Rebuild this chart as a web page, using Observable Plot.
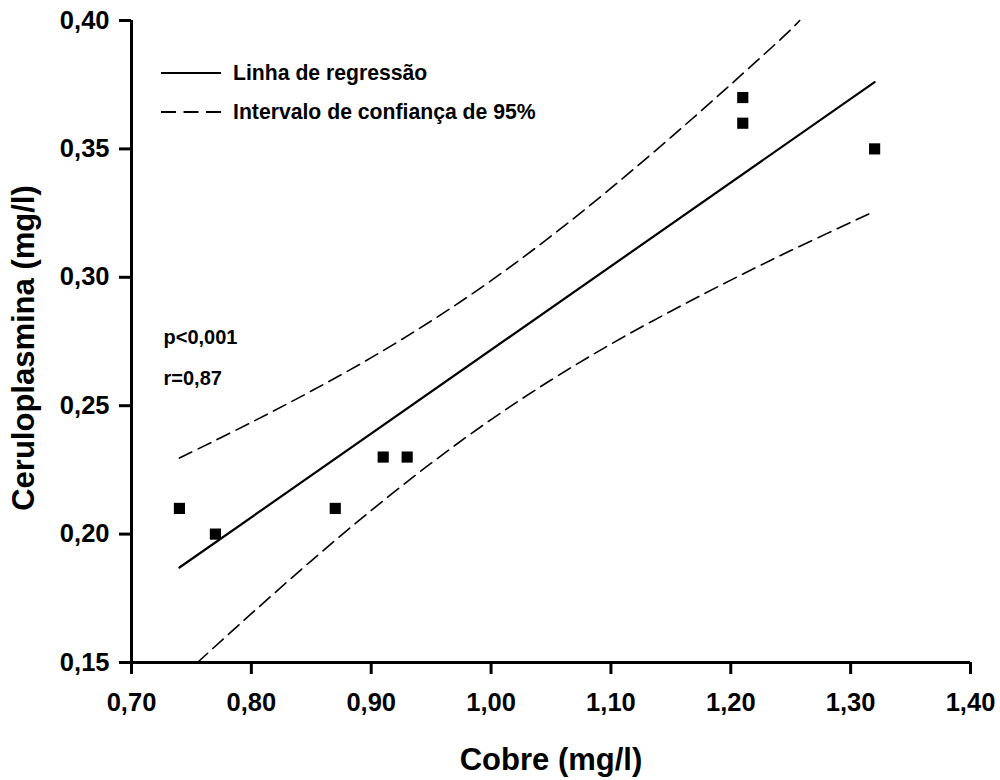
<!DOCTYPE html>
<html>
<head>
<meta charset="utf-8">
<script src="https://cdn.jsdelivr.net/npm/d3@7"></script>
<script src="https://cdn.jsdelivr.net/npm/@observablehq/plot@0.6"></script>
<style>
  html, body { margin: 0; padding: 0; background: #fff; }
  #chart { position: relative; width: 1000px; height: 780px; }
  #chart svg text { font-weight: bold; }
</style>
</head>
<body>
<div id="chart"></div>
<script>
// Observed data points
const cobre = [0.74, 0.77, 0.87, 0.91, 0.93, 1.21, 1.21, 1.32];
const ceruloplasmina = [0.21, 0.20, 0.21, 0.23, 0.23, 0.37, 0.36, 0.35];

// Regression line (endpoints)
const regX = [0.74, 1.32];
const regY = [0.187, 0.376];

// 95% confidence interval curves
const upperX = [0.74, 0.80, 0.85, 0.90, 0.95, 1.00, 1.05, 1.10, 1.15, 1.20, 1.25, 1.2575];
const upperY = [0.2296, 0.2435, 0.2557, 0.2687, 0.2830, 0.2987, 0.3160, 0.3347, 0.3545, 0.3751, 0.3964, 0.4000];
const lowerX = [0.755, 0.80, 0.85, 0.90, 0.95, 1.00, 1.05, 1.10, 1.15, 1.20, 1.25, 1.32];
const lowerY = [0.1500, 0.1690, 0.1896, 0.2092, 0.2276, 0.2446, 0.2600, 0.2740, 0.2868, 0.2989, 0.3104, 0.3257];

// Ticks
const xTicks = [0.70, 0.80, 0.90, 1.00, 1.10, 1.20, 1.30, 1.40];
const yTicks = [0.15, 0.20, 0.25, 0.30, 0.35, 0.40];

// Labels
const xTitle = "Cobre (mg/l)";
const yTitle = "Ceruloplasmina (mg/l)";
const stats = ["p<0,001", "r=0,87"];
const legendLabels = ["Linha de regressão", "Intervalo de confiança de 95%"];

const fmt = d => d.toFixed(2).replace(".", ",");
const points = cobre.map((x, i) => ({x, y: ceruloplasmina[i]}));
const reg = regX.map((x, i) => ({x, y: regY[i]}));
const upper = upperX.map((x, i) => ({x, y: upperY[i]}));
const lower = lowerX.map((x, i) => ({x, y: lowerY[i]}));

const FONT = "'Liberation Sans', Arial, Helvetica, sans-serif";

const chart = Plot.plot({
  width: 1000,
  height: 780,
  marginLeft: 131,
  marginRight: 30,
  marginTop: 20,
  marginBottom: 118,
  style: {fontFamily: FONT, fontWeight: "bold", color: "#000", background: "#fff", overflow: "visible"},
  x: {domain: [0.70, 1.40]},
  y: {domain: [0.15, 0.40]},
  marks: [
    Plot.line(upper, {x: "x", y: "y", curve: "catmull-rom", stroke: "#000", strokeWidth: 1.6, strokeDasharray: "14,7"}),
    Plot.line(lower, {x: "x", y: "y", curve: "catmull-rom", stroke: "#000", strokeWidth: 1.6, strokeDasharray: "14,7"}),
    Plot.line(reg, {x: "x", y: "y", stroke: "#000", strokeWidth: 2.2}),
    Plot.dot(points, {x: "x", y: "y", symbol: "square", r: 6.3, fill: "#000", stroke: null}),
    Plot.ruleY([0.15], {stroke: "#000", strokeWidth: 3}),
    Plot.ruleX([0.70], {stroke: "#000", strokeWidth: 3}),
    Plot.axisX({ticks: xTicks, tickFormat: fmt, tickSize: 12, tickPadding: 18, strokeWidth: 3,
      fontSize: 25.5, fontWeight: "bold", label: null, stroke: "#000", fill: "#000"}),
    Plot.axisY({ticks: yTicks, tickFormat: fmt, tickSize: 12, tickPadding: 10, strokeWidth: 3,
      fontSize: 25.5, fontWeight: "bold", label: null, stroke: "#000", fill: "#000"}),
    Plot.text([xTitle], {frameAnchor: "bottom", dy: 98, fontSize: 31, fontWeight: "bold", fill: "#000", lineAnchor: "middle"}),
    Plot.text([stats[0]], {frameAnchor: "top-left", dx: 32, dy: 309, textAnchor: "start", fontSize: 20, fontWeight: "bold", fill: "#000"}),
    Plot.text([stats[1]], {frameAnchor: "top-left", dx: 32, dy: 350, textAnchor: "start", fontSize: 20, fontWeight: "bold", fill: "#000"})
  ]
});

document.getElementById("chart").appendChild(chart);

const svg = d3.select(chart);

// Y axis title (rotated)
svg.append("text")
  .attr("transform", "translate(23,348) rotate(-90)")
  .attr("text-anchor", "middle").attr("dy", "0.35em")
  .attr("font-family", FONT).attr("font-weight", "bold").attr("font-size", 31)
  .attr("fill", "#000").text(yTitle);

// In-plot legend
const lg = svg.append("g").attr("font-family", FONT).attr("font-weight", "bold").attr("font-size", 21.2);
const rows = [{y: 73, dash: null}, {y: 112, dash: "15,7.5"}];
rows.forEach((r, i) => {
  lg.append("line").attr("x1", 161).attr("x2", 221).attr("y1", r.y).attr("y2", r.y)
    .attr("stroke", "#000").attr("stroke-width", r.dash ? 1.8 : 2.2)
    .attr("stroke-dasharray", r.dash);
  lg.append("text").attr("x", 233).attr("y", r.y).attr("dy", "0.35em")
    .attr("text-anchor", "start")
    .attr("fill", "#000").text(legendLabels[i]);
});
</script>
</body>
</html>
